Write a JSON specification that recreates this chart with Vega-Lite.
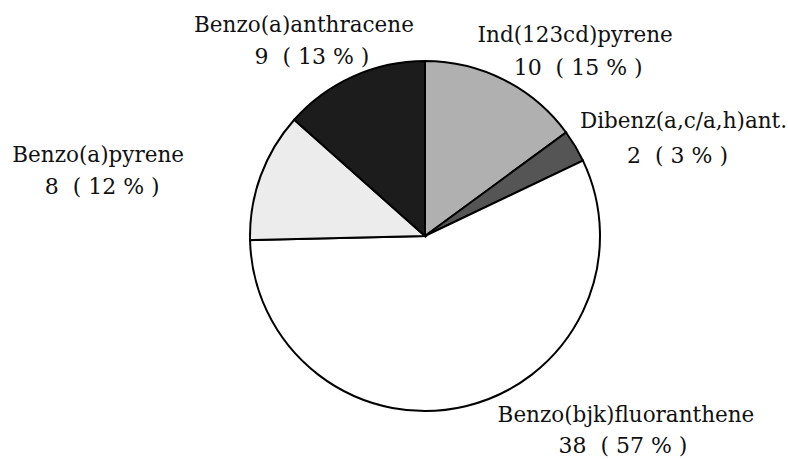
{
  "$schema": "https://vega.github.io/schema/vega-lite/v6.json",
  "width": 726,
  "height": 446,
  "autosize": {"type": "none"},
  "padding": {"left": 62, "top": 13, "right": 0, "bottom": 0},
  "background": "white",
  "view": {"stroke": null},
  "data": {
    "values": [
      {"name": "Ind(123cd)pyrene", "value": 10, "pct": 15, "line2": "10\u00a0 ( 15 % )", "rank": 1},
      {"name": "Dibenz(a,c/a,h)ant.", "value": 2, "pct": 3, "line2": "2\u00a0 ( 3 % )", "rank": 2},
      {"name": "Benzo(bjk)fluoranthene", "value": 38, "pct": 57, "line2": "38\u00a0 ( 57 % )", "rank": 3},
      {"name": "Benzo(a)pyrene", "value": 8, "pct": 12, "line2": "8\u00a0 ( 12 % )", "rank": 4},
      {"name": "Benzo(a)anthracene", "value": 9, "pct": 13, "line2": "9\u00a0 ( 13 % )", "rank": 5}
    ]
  },
  "encoding": {
    "theta": {"field": "value", "type": "quantitative", "stack": true},
    "order": {"field": "rank", "type": "quantitative"}
  },
  "layer": [
    {
      "mark": {"type": "arc", "outerRadius": 175, "stroke": "#000000", "strokeWidth": 2},
      "encoding": {
        "color": {
          "field": "name",
          "type": "nominal",
          "scale": {
            "domain": ["Ind(123cd)pyrene", "Dibenz(a,c/a,h)ant.", "Benzo(bjk)fluoranthene", "Benzo(a)pyrene", "Benzo(a)anthracene"],
            "range": ["#b0b0b0", "#555555", "#ffffff", "#ececec", "#1c1c1c"]
          },
          "legend": null
        }
      }
    },
    {
      "mark": {
        "type": "text",
        "radius": 215,
        "font": "DejaVu Serif",
        "fontSize": 21.5,
        "align": "center",
        "baseline": "alphabetic",
        "dx": {"expr": "[53, 74, 151, -125, -33][datum.rank - 1]"},
        "dy": {"expr": "[-2, 2, -23, 0, -8][datum.rank - 1]"}
      },
      "encoding": {
        "detail": {"field": "name", "type": "nominal"},
        "text": {"field": "name", "type": "nominal"},
        "color": {"value": "#111111"}
      }
    },
    {
      "mark": {
        "type": "text",
        "radius": 215,
        "font": "DejaVu Serif",
        "fontSize": 22,
        "align": "center",
        "baseline": "alphabetic",
        "dx": {"expr": "[56, 68, 148, -121, -25][datum.rank - 1]"},
        "dy": {"expr": "[31, 37, 8, 32, 24][datum.rank - 1]"}
      },
      "encoding": {
        "detail": {"field": "name", "type": "nominal"},
        "text": {"field": "line2", "type": "nominal"},
        "color": {"value": "#111111"}
      }
    }
  ]
}
